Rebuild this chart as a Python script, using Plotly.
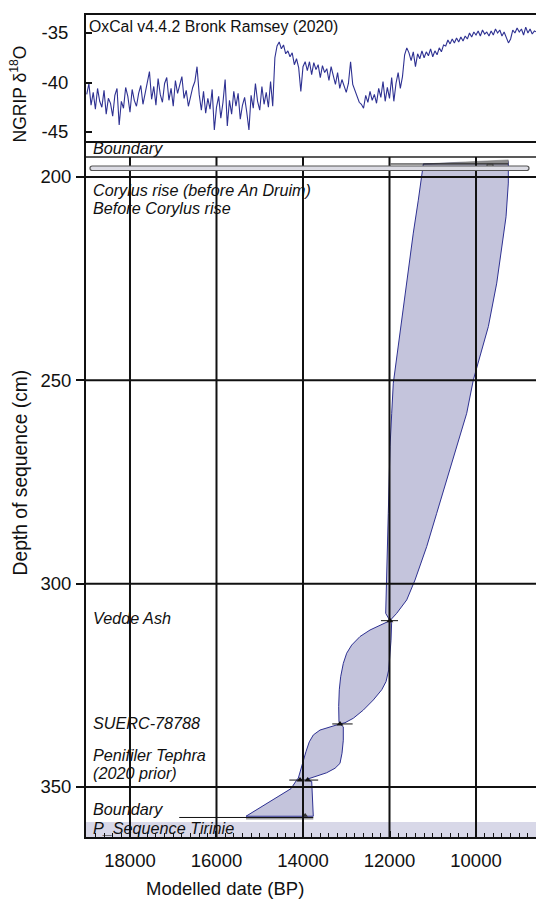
import plotly.graph_objects as go

# ---------------- NGRIP d18O (top panel) ----------------
ngrip_year = [
    19000, 18950, 18900, 18850, 18800, 18750, 18700, 18650, 18600, 18550,
    18500, 18450, 18400, 18350, 18300, 18250, 18200, 18150, 18100, 18050,
    18000, 17950, 17900, 17850, 17800, 17750, 17700, 17650, 17600, 17550,
    17500, 17450, 17400, 17350, 17300, 17250, 17200, 17150, 17100, 17050,
    17000, 16950, 16900, 16850, 16800, 16750, 16700, 16650, 16600, 16550,
    16500, 16450, 16400, 16350, 16300, 16250, 16200, 16150, 16100, 16050,
    16000, 15950, 15900, 15850, 15800, 15750, 15700, 15650, 15600, 15550,
    15500, 15450, 15400, 15350, 15300, 15250, 15200, 15150, 15100, 15050,
    15000, 14950, 14900, 14850, 14800, 14750, 14700, 14650, 14600, 14550,
    14500, 14450, 14400, 14350, 14300, 14250, 14200, 14150, 14100, 14050,
    14000, 13950, 13900, 13850, 13800, 13750, 13700, 13650, 13600, 13550,
    13500, 13450, 13400, 13350, 13300, 13250, 13200, 13150, 13100, 13050,
    13000, 12950, 12900, 12850, 12800, 12750, 12700, 12650, 12600, 12550,
    12500, 12450, 12400, 12350, 12300, 12250, 12200, 12150, 12100, 12050,
    12000, 11950, 11900, 11850, 11800, 11750, 11700, 11650, 11600, 11550,
    11500, 11450, 11400, 11350, 11300, 11250, 11200, 11150, 11100, 11050,
    11000, 10950, 10900, 10850, 10800, 10750, 10700, 10650, 10600, 10550,
    10500, 10450, 10400, 10350, 10300, 10250, 10200, 10150, 10100, 10050,
    10000, 9950, 9900, 9850, 9800, 9750, 9700, 9650, 9600, 9550,
    9500, 9450, 9400, 9350, 9300, 9250, 9200, 9150, 9100, 9050,
    9000, 8950, 8900, 8850, 8800, 8750, 8700, 8650, 8600,
]
ngrip_d18o = [
    -41.2, -40.1, -42.3, -41.0, -42.7, -40.6, -41.9, -42.5, -40.8, -43.2,
    -41.6, -42.1, -43.4, -41.3, -40.6, -44.3, -41.9, -42.6, -40.5, -41.4,
    -43.0, -40.7, -41.8, -42.4, -41.1, -40.3, -42.2, -41.0, -39.9, -38.9,
    -41.7, -40.4, -42.3, -39.6, -41.2, -42.0, -40.1, -39.5, -41.8, -40.6,
    -42.4, -39.8, -41.1, -40.2, -39.4, -41.6, -40.8, -42.4, -41.3, -40.5,
    -39.9, -38.4, -41.2, -42.8, -40.9, -43.1, -41.6, -42.7, -40.7, -44.8,
    -42.5, -41.4, -43.6, -42.0, -39.7, -44.4, -41.8, -43.2, -40.9, -42.4,
    -41.1, -43.7, -42.3, -41.5, -43.0, -44.8, -41.3, -42.6, -40.1, -41.9,
    -42.8, -40.4, -42.2, -41.0, -42.5, -39.9, -42.4, -37.5, -36.3, -35.9,
    -36.6, -36.2, -37.1, -36.8, -37.4, -37.0, -38.2, -37.6, -38.5, -40.9,
    -38.4, -37.9, -38.8, -37.9, -39.2, -38.0, -38.7, -38.2, -39.5, -38.3,
    -39.0, -38.6, -39.8, -38.4, -39.3, -40.2, -39.0, -40.6, -39.7, -40.3,
    -41.0, -40.1, -37.9, -40.2, -40.8, -41.3, -42.0, -42.2, -42.6, -41.3,
    -42.0, -40.9, -41.8, -41.2, -42.1, -40.6, -41.5, -39.9, -41.9, -40.5,
    -41.6, -39.5, -41.9, -40.1, -39.0, -40.6, -39.4, -37.2, -36.5, -37.0,
    -37.8, -36.9, -38.4, -37.1, -37.6, -36.8, -37.5, -36.9, -37.3, -36.6,
    -37.4, -36.8, -37.2, -36.5, -36.9, -36.2, -36.3, -35.7, -36.1, -35.6,
    -36.0, -35.5, -35.9, -35.4, -35.8, -35.3, -35.6, -35.0, -35.4, -34.9,
    -35.2, -34.8, -35.3, -34.7, -35.1, -34.9, -35.3, -34.8, -35.2, -34.6,
    -35.0, -34.7, -35.3, -34.9, -35.4, -36.0, -35.6, -34.7, -35.0, -34.5,
    -34.9, -34.6, -35.2, -34.4, -35.0, -34.6, -35.1, -34.8, -34.9,
]

# ---------------- Age-depth model envelope (bottom panel) ----------------
env_old_year = [11218, 11256, 11334, 11450, 11602, 11757, 11912, 11949, 11988, 12028, 12065, 12088, 11990,
                12220, 12451, 12682, 12874, 12990, 13068, 13129, 13161, 13175, 13168, 13145,
                13376, 13607, 13761, 13854, 13931, 14007, 14069, 14108, 14146, 14277, 15318]
env_old_depth = [196.8, 199.9, 205.7, 213.8, 226.1, 238.4, 250.7, 258.1, 266.3, 282.7, 299.1, 307.3, 309.1,
                 310.2, 311.4, 313.0, 315.1, 317.1, 319.6, 322.9, 326.1, 330.2, 333.9, 334.5,
                 335.2, 336.0, 337.2, 338.9, 341.3, 344.2, 346.2, 347.8, 348.3, 350.4, 357.2]
env_young_year = [9253, 9253, 9306, 9406, 9521, 9715, 9908, 10062, 10215, 10446, 10678, 10909, 11140, 11410, 11602, 11834, 11990,
                  11951, 11965, 11988, 12018, 12081, 12180, 12374, 12606, 12837, 13029, 13145,
                  13068, 13068, 13098, 13145, 13260, 13453, 13684, 13879, 13891, 13799, 13762]
env_young_depth = [196.2, 201.5, 209.8, 218.0, 226.1, 236.8, 244.2, 249.9, 258.1, 266.3, 274.5, 282.7, 290.9, 299.1, 304.0, 307.3, 309.1,
                   309.7, 313.9, 318.0, 321.2, 324.1, 326.1, 328.6, 331.1, 333.1, 334.2, 334.5,
                   335.2, 338.5, 341.7, 344.2, 345.4, 346.5, 347.3, 348.0, 348.3, 348.6, 357.2]

# dated horizons (triangles) and their calibrated ranges
horizon_year = [11990, 13145, 14069, 13891]
horizon_depth = [309.1, 334.5, 348.3, 348.3]
range_old = [12197, 13324, 14317, 16862, 11975]
range_young = [11803, 12852, 13649, 13764, 9253]
range_depth = [309.1, 334.5, 348.3, 357.5, 196.8]

# top boundary distribution wedge
wedge_year = [11218, 9253, 9253]
wedge_depth = [196.8, 195.8, 196.8]
top_marker_year = [9676]
top_marker_depth = [197.6]
bottom_marker_year = [13950]
bottom_marker_depth = [357.0]
bottom_shade_year = [15318, 13762]
bottom_shade_depth = [357.7, 357.7]

# long prior bar (capsule) across the top
capsule_old, capsule_young, capsule_depth = 18925, 8775, 197.85

# axes
x_range = [19017, 8613]
x_label_years = [18000, 16000, 14000, 12000, 10000]
depth_ticks = [200, 250, 300, 350]
d18o_ticks = [-35, -40, -45]
depth_range = [362.30, 191.15]
d18o_range = [-45.91, -33.18]
box_top_depth = 195.08
band_depth = [358.6, 362.3]

labels = ["Boundary", "Corylus rise (before An Druim)", "Before Corylus rise", "Vedde Ash",
          "SUERC-78788", "Penifiler Tephra", "(2020 prior)", "Boundary", "P_Sequence Tirinie"]
label_px = [148, 190, 208, 618, 722.5, 755, 773, 808.5, 828]

# ---------------- geometry helpers ----------------
W, H = 536, 899
ML, MR, MT, MB = 86, 0, 15, 62
PW, PH = W - ML - MR, H - MT - MB
PLOT_LEFT, PLOT_BOTTOM = 86, 837   # window pixels


def py(pix):
    return (PLOT_BOTTOM - pix) / PH


def px(pix):
    return (pix - PLOT_LEFT) / PW


FONT = "Arial, 'Liberation Sans', Helvetica, sans-serif"
NAVY = "#2e3192"

fig = go.Figure()

# NGRIP curve
fig.add_trace(go.Scatter(x=ngrip_year, y=ngrip_d18o, mode="lines",
                         line=dict(color=NAVY, width=1.1), xaxis="x", yaxis="y",
                         hoverinfo="skip", showlegend=False))

# envelope polygon
poly_x = env_old_year + env_young_year[::-1] + [env_old_year[0]]
poly_y = env_old_depth + env_young_depth[::-1] + [env_old_depth[0]]
fig.add_trace(go.Scatter(x=poly_x, y=poly_y, mode="lines", fill="toself",
                         fillcolor="#c4c4dc", line=dict(color=NAVY, width=1),
                         xaxis="x2", yaxis="y2", hoverinfo="skip", showlegend=False))

# top boundary wedge
fig.add_trace(go.Scatter(x=wedge_year + [wedge_year[0]], y=wedge_depth + [wedge_depth[0]],
                         mode="lines", fill="toself", fillcolor="#8c8c8c",
                         line=dict(color="#666", width=0.5), xaxis="x2", yaxis="y2",
                         hoverinfo="skip", showlegend=False))

# bottom shade
fig.add_trace(go.Scatter(x=bottom_shade_year, y=bottom_shade_depth, mode="lines",
                         line=dict(color="#9a9a9a", width=2.5), xaxis="x2", yaxis="y2",
                         hoverinfo="skip", showlegend=False))

# calibrated ranges
ex, ey = [], []
for o, yng, d in zip(range_old, range_young, range_depth):
    ex += [o, yng, None]
    ey += [d, d, None]
fig.add_trace(go.Scatter(x=ex, y=ey, mode="lines", line=dict(color="#111", width=1),
                         xaxis="x2", yaxis="y2", hoverinfo="skip", showlegend=False))

# horizon triangles
fig.add_trace(go.Scatter(x=horizon_year, y=horizon_depth, mode="markers",
                         marker=dict(symbol="triangle-up", size=6, color="#111"),
                         xaxis="x2", yaxis="y2", hoverinfo="skip", showlegend=False))
fig.add_trace(go.Scatter(x=bottom_marker_year, y=bottom_marker_depth, mode="markers",
                         marker=dict(symbol="triangle-up", size=5, color="#333"),
                         xaxis="x2", yaxis="y2", hoverinfo="skip", showlegend=False))
fig.add_trace(go.Scatter(x=top_marker_year, y=top_marker_depth, mode="markers",
                         marker=dict(symbol="square", size=6, color="#999",
                                     line=dict(color="#333", width=1)),
                         xaxis="x2", yaxis="y2", hoverinfo="skip", showlegend=False))

shapes = []
# P_Sequence band
shapes.append(dict(type="rect", xref="paper", yref="y2", x0=0, x1=1,
                   y0=band_depth[0], y1=band_depth[1], fillcolor="#d8d8e8",
                   line=dict(width=0), layer="below"))
# top line of the sequence box
shapes.append(dict(type="line", xref="paper", yref="y2", x0=0, x1=1.01,
                   y0=box_top_depth, y1=box_top_depth, line=dict(color="#222", width=1.3)))
# vertical grid lines
for yr in x_label_years:
    shapes.append(dict(type="line", xref="x2", yref="y2", x0=yr, x1=yr,
                       y0=box_top_depth, y1=depth_range[0],
                       line=dict(color="#111", width=2)))
# horizontal grid lines
for d in depth_ticks:
    shapes.append(dict(type="line", xref="paper", yref="y2", x0=0, x1=1.01,
                       y0=d, y1=d, line=dict(color="#111", width=2)))
# capsule (rounded bar)
r = 52
h = 0.55
c = capsule_depth
xl, xr = capsule_old, capsule_young
path = (f"M {xl - r},{c - h} L {xr + r},{c - h} Q {xr},{c - h} {xr},{c} "
        f"Q {xr},{c + h} {xr + r},{c + h} L {xl - r},{c + h} Q {xl},{c + h} {xl},{c} "
        f"Q {xl},{c - h} {xl - r},{c - h} Z")
shapes.append(dict(type="path", xref="x2", yref="y2", path=path,
                   fillcolor="#dcdce4", line=dict(color="#555", width=1.2)))

annotations = []
annotations.append(dict(text="OxCal v4.4.2 Bronk Ramsey (2020)", xref="paper", yref="paper",
                        x=px(87), y=py(27), xanchor="left", yanchor="middle", showarrow=False,
                        font=dict(family=FONT, size=15.8, color="#111")))
for t, p in zip(labels, label_px):
    annotations.append(dict(text=f"<i>{t}</i>", xref="paper", yref="paper",
                            x=px(91), y=py(p), xanchor="left", yanchor="middle",
                            showarrow=False, font=dict(family=FONT, size=16.2, color="#111")))
annotations.append(dict(text="NGRIP δ<sup>18</sup>O", xref="paper", yref="paper",
                        x=px(18.5), y=py(94), textangle=-90, xanchor="center", yanchor="middle",
                        showarrow=False, font=dict(family=FONT, size=17.5, color="#111")))
annotations.append(dict(text="Depth of sequence (cm)", xref="paper", yref="paper",
                        x=px(19.5), y=py(473), textangle=-90, xanchor="center", yanchor="middle",
                        showarrow=False, font=dict(family=FONT, size=19.3, color="#111")))
annotations.append(dict(text="Modelled date (BP)", xref="paper", yref="paper",
                        x=px(225), y=py(888), xanchor="center", yanchor="middle",
                        showarrow=False, font=dict(family=FONT, size=18.5, color="#111")))

tick_font = dict(family=FONT, size=18.5, color="#111")
top_dom = [py(141), 1]
low_dom = [0, py(141)]

fig.update_layout(
    width=W, height=H,
    margin=dict(l=ML, r=MR, t=MT, b=MB),
    paper_bgcolor="white", plot_bgcolor="white",
    showlegend=False,
    xaxis=dict(domain=[0, 1], anchor="y", range=x_range, showticklabels=False, ticks="",
               showline=True, mirror=True, linecolor="#111", linewidth=2,
               showgrid=False, zeroline=False),
    yaxis=dict(domain=top_dom, anchor="x", range=d18o_range, tickvals=d18o_ticks,
               ticktext=[str(v) for v in d18o_ticks],
               ticks="inside", ticklen=6, tickwidth=1.5, tickcolor="#111",
               showline=True, linecolor="#111", linewidth=2, showgrid=False, zeroline=False,
               tickfont=tick_font, ticklabelstandoff=12),
    xaxis2=dict(domain=[0, 1], anchor="y2", range=x_range,
                tickvals=x_label_years,
                ticktext=[str(v) for v in x_label_years],
                ticks="inside", ticklen=6, tickwidth=1.5, tickcolor="#111",
                minor=dict(tickmode="linear", tick0=0, dtick=200, ticks="inside",
                           ticklen=4, tickwidth=1.2, tickcolor="#111", showgrid=False),
                showline=True, linecolor="#111", linewidth=2, showgrid=False, zeroline=False,
                tickfont=tick_font, ticklabelstandoff=6),
    yaxis2=dict(domain=low_dom, anchor="x2", range=depth_range, tickvals=depth_ticks,
                ticks="outside", ticklen=8, tickwidth=2, tickcolor="#111",
                showline=True, linecolor="#111", linewidth=2, showgrid=False, zeroline=False,
                tickfont=tick_font, ticklabelstandoff=1),
    shapes=shapes,
    annotations=annotations,
)

# remove the default 8px page margin so the 536x899 figure fills the window exactly
fig.write_html("out.html",
               config={"displayModeBar": False},
               post_script="document.body.style.margin='0px';document.body.style.overflow='hidden';")
